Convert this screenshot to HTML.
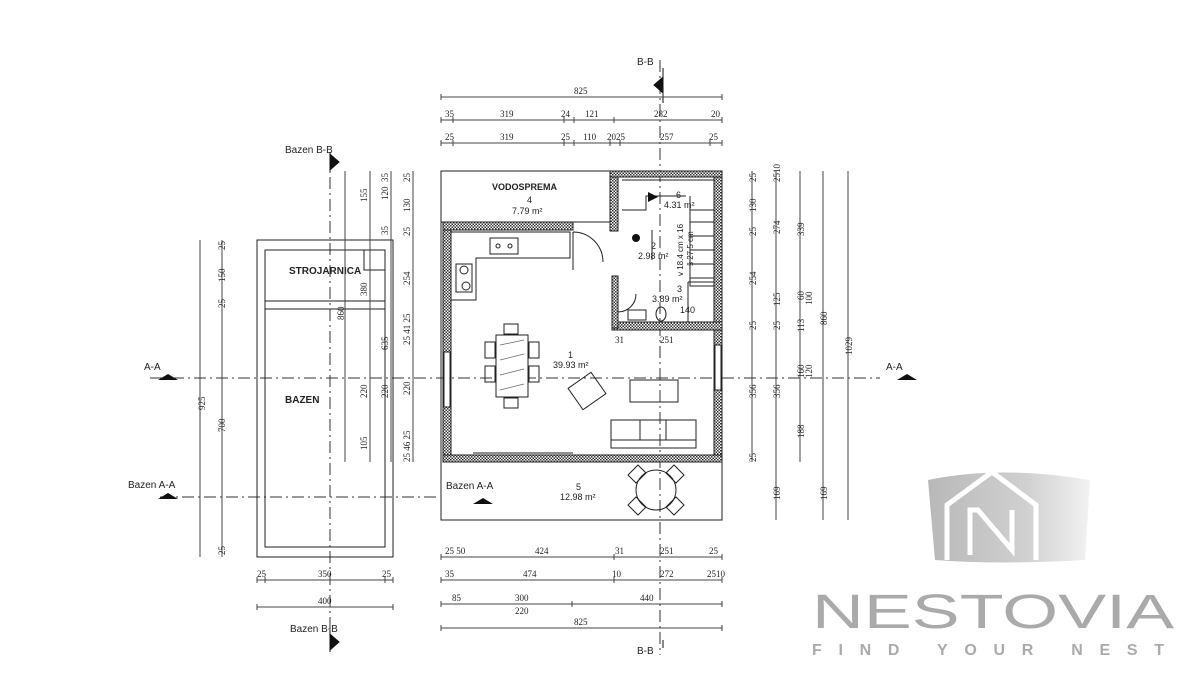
<!DOCTYPE html>
<html><head><meta charset="utf-8"><style>
html,body{margin:0;padding:0;background:#fff;width:1200px;height:700px;overflow:hidden}
svg{display:block}
text{font-family:"Liberation Sans",sans-serif;fill:#222}
.d{font-size:9px;font-family:"Liberation Serif",serif}
.l{stroke:#444;stroke-width:1;fill:none}
.ax{stroke:#333;stroke-width:1;stroke-dasharray:12 4 2 4;fill:none}
.w{fill:url(#h);stroke:#222;stroke-width:1}
.f{fill:none;stroke:#222;stroke-width:1}
</style></head><body>
<svg width="1200" height="700" viewBox="0 0 1200 700" xmlns="http://www.w3.org/2000/svg">
<defs>
<pattern id="h" width="3" height="3" patternUnits="userSpaceOnUse"><rect width="3" height="3" fill="#fff"/><rect width="1.5" height="1.5" fill="#333"/><rect x="1.5" y="1.5" width="1.5" height="1.5" fill="#333"/></pattern>
<linearGradient id="g" x1="0" x2="1"><stop offset="0" stop-color="#b8b8b8"/><stop offset=".6" stop-color="#d0d0d0"/><stop offset="1" stop-color="#f2f2f2"/></linearGradient>
</defs>

<path class="ax" d="M660 60V655M330 155V640M150 378H880M160 497H440"/>
<path d="M663 68v35M662 78l-8 7 8 7z" fill="#111" stroke="#111"/><text x="637" y="65" font-size="10">B-B</text>
<path d="M663 648v-8" stroke="#111"/><text x="637" y="654" font-size="10">B-B</text>
<path d="M330 152v20M331 155l8 7-8 7z" fill="#111" stroke="#111"/><text x="285" y="153" font-size="10">Bazen B-B</text>
<path d="M330 630v22M331 635l8 7-8 7z" fill="#111" stroke="#111"/><text x="290" y="632" font-size="10">Bazen B-B</text>
<path d="M158 380h20l-10-6z" fill="#111"/><text x="144" y="370" font-size="10">A-A</text>
<path d="M897 380h20l-10-6z" fill="#111"/><text x="886" y="370" font-size="10">A-A</text>
<path d="M158 499h20l-10-6z" fill="#111"/><text x="128" y="488" font-size="10">Bazen A-A</text>
<path d="M473 504h20l-10-6z" fill="#111"/><text x="446" y="489" font-size="10">Bazen A-A</text>

<rect class="f" x="257" y="240" width="136" height="317" stroke-width="1.3"/>
<rect class="f" x="265" y="250" width="120" height="297"/>
<path class="f" d="M265 301H385M265 309H385M364 250V270H385"/>
<text x="289" y="274" font-size="10" font-weight="bold">STROJARNICA</text>
<text x="285" y="403" font-size="10" font-weight="bold">BAZEN</text>

<rect class="f" x="441" y="171" width="281" height="349"/>
<path class="f" d="M441 222H612"/>
<rect class="w" x="443" y="222" width="8" height="240"/>
<rect class="w" x="714" y="171" width="8" height="291"/>
<rect class="w" x="443" y="222" width="130" height="8"/>
<rect class="w" x="610" y="171" width="8" height="60"/>
<rect class="w" x="610" y="171" width="112" height="6"/>
<rect class="w" x="443" y="455" width="279" height="7"/>
<rect class="w" x="612" y="322" width="110" height="8"/>
<rect class="w" x="612" y="276" width="6" height="52"/>
<rect x="444" y="352" width="6" height="55" fill="#fff" stroke="#222"/>
<rect x="715" y="345" width="6" height="45" fill="#fff" stroke="#222"/>
<path class="f" d="M473 453H573M573 232a30 30 0 0 1 30 30M573 232V270M618 312a18 18 0 0 0 18-18"/>
<path class="f" d="M451 232H570V258H476V300H451"/>
<rect class="f" x="490" y="238" width="28" height="16"/><circle cx="498" cy="246" r="2" fill="none" stroke="#222"/><circle cx="510" cy="246" r="2" fill="none" stroke="#222"/>
<rect class="f" x="456" y="264" width="16" height="28"/><circle cx="464" cy="270" r="4" fill="none" stroke="#222"/><circle cx="466" cy="286" r="4" fill="none" stroke="#222"/>
<path class="f" d="M622 180H714M622 210H646V196H686M652 230V260M690 196V286H714M690 210H714M690 222H714M690 236H714M690 250H714M690 264H714M690 278H714"/>
<circle cx="636" cy="238" r="4" fill="#111"/>
<path d="M648 192l10 5-10 5z" fill="#111"/>
<rect class="f" x="628" y="310" width="18" height="10"/><ellipse class="f" cx="661" cy="314" rx="5" ry="7"/>
<path class="f" d="M688 282V322M688 282H714"/>
<rect x="496" y="335" width="32" height="62" fill="#fff" stroke="#222"/>
<path d="M500 345l24 -5M500 360l24-6M500 375l24-6M500 390l24-6" stroke="#666" stroke-width=".7"/>
<rect class="f" x="504" y="324" width="14" height="10"/><rect class="f" x="504" y="398" width="14" height="10"/>
<rect class="f" x="485" y="342" width="10" height="16"/><rect class="f" x="485" y="366" width="10" height="16"/>
<rect class="f" x="529" y="342" width="10" height="16"/><rect class="f" x="529" y="366" width="10" height="16"/>
<rect class="f" x="573" y="378" width="28" height="26" transform="rotate(-35 587 391)"/>
<rect class="f" x="630" y="380" width="48" height="22"/>
<rect class="f" x="611" y="420" width="85" height="28"/><path class="f" d="M611 440H696M640 420V440M666 420V440"/>
<circle class="f" cx="656" cy="490" r="20"/>
<path class="f" d="M628 475l10-10 8 8-10 10zM666 473l8-8 10 10-8 8zM628 505l10 10 8-8-10-10zM666 507l8 8 10-10-8-8z"/>

<text x="492" y="190" font-size="9" font-weight="bold">VODOSPREMA</text>
<text x="527" y="203" font-size="9">4</text><text x="512" y="214" font-size="9">7.79 m²</text>
<text x="676" y="198" font-size="9">6</text><text x="664" y="208" font-size="9">4.31 m²</text>
<text x="651" y="249" font-size="9">2</text><text x="638" y="259" font-size="9">2.98 m²</text>
<text x="677" y="292" font-size="9">3</text><text x="652" y="302" font-size="9">3.89 m²</text><text x="680" y="313" font-size="9">140</text>
<text x="568" y="358" font-size="9">1</text><text x="553" y="368" font-size="9">39.93 m²</text>
<text x="576" y="490" font-size="9">5</text><text x="560" y="500" font-size="9">12.98 m²</text>
<text x="615" y="343" class="d">31</text><text x="660" y="343" class="d">251</text>
<text transform="translate(683 276) rotate(-90)" font-size="8">v 18.4 cm x 16</text>
<text transform="translate(693 266) rotate(-90)" font-size="8">š 27.5 cm</text>

<path class="l" d="M441 97H722M441 120H722M441 143H722M441 94v6M722 94v6M441 117v6M453 117v6M564 117v6M574 117v6M614 117v6M722 117v6M441 140v6M453 140v6M564 140v6M574 140v6M610 140v6M620 140v6M710 140v6M722 140v6"/>
<g><text x="574" y="94" class="d">825</text>
<text x="445" y="117" class="d">35</text><text x="500" y="117" class="d">319</text><text x="561" y="117" class="d">24</text><text x="585" y="117" class="d">121</text><text x="654" y="117" class="d">282</text><text x="711" y="117" class="d">20</text>
<text x="445" y="140" class="d">25</text><text x="500" y="140" class="d">319</text><text x="561" y="140" class="d">25</text><text x="583" y="140" class="d">110</text><text x="607" y="140" class="d">2025</text><text x="660" y="140" class="d">257</text><text x="709" y="140" class="d">25</text></g>

<path class="l" d="M441 557H722M441 580H722M441 604H722M441 628H722M441 554v6M722 554v6M441 577v6M722 577v6M441 601v6M722 601v6M441 625v6M722 625v6M572 601v6M614 554v6M614 577v6"/>
<path class="l" d="M257 580H393M257 607H393M257 577v6M393 577v6M257 604v6M393 604v6M265 577v6M385 577v6"/>
<g>
<text x="445" y="554" class="d">25 50</text><text x="535" y="554" class="d">424</text><text x="615" y="554" class="d">31</text><text x="660" y="554" class="d">251</text><text x="709" y="554" class="d">25</text>
<text x="445" y="577" class="d">35</text><text x="523" y="577" class="d">474</text><text x="612" y="577" class="d">10</text><text x="660" y="577" class="d">272</text><text x="707" y="577" class="d">2510</text>
<text x="452" y="601" class="d">85</text><text x="515" y="601" class="d">300</text><text x="640" y="601" class="d">440</text><text x="515" y="614" class="d">220</text>
<text x="574" y="625" class="d">825</text>
<text x="257" y="577" class="d">25</text><text x="318" y="577" class="d">350</text><text x="382" y="577" class="d">25</text>
<text x="318" y="604" class="d">400</text></g>

<path class="l" d="M200 240V557M222 240V557M345 171V462M370 171V462M391 171V462M413 171V462"/>
<g>
<text transform="translate(205 410) rotate(-90)" class="d">925</text>
<text transform="translate(225 282) rotate(-90)" class="d">150</text>
<text transform="translate(225 432) rotate(-90)" class="d">700</text>
<text transform="translate(225 250) rotate(-90)" class="d">25</text><text transform="translate(225 308) rotate(-90)" class="d">25</text><text transform="translate(225 555) rotate(-90)" class="d">25</text>
<text transform="translate(344 320) rotate(-90)" class="d">860</text>
<text transform="translate(367 202) rotate(-90)" class="d">155</text><text transform="translate(367 296) rotate(-90)" class="d">380</text><text transform="translate(367 398) rotate(-90)" class="d">220</text><text transform="translate(367 450) rotate(-90)" class="d">105</text>
<text transform="translate(388 200) rotate(-90)" class="d">120</text><text transform="translate(388 350) rotate(-90)" class="d">635</text><text transform="translate(388 398) rotate(-90)" class="d">220</text>
<text transform="translate(388 182) rotate(-90)" class="d">35</text><text transform="translate(388 235) rotate(-90)" class="d">35</text>
<text transform="translate(410 212) rotate(-90)" class="d">130</text><text transform="translate(410 285) rotate(-90)" class="d">254</text><text transform="translate(410 395) rotate(-90)" class="d">220</text>
<text transform="translate(410 182) rotate(-90)" class="d">25</text><text transform="translate(410 236) rotate(-90)" class="d">25</text><text transform="translate(410 345) rotate(-90)" class="d">25 41 25</text><text transform="translate(410 462) rotate(-90)" class="d">25 46 25</text>
</g>

<path class="l" d="M752 171V462M776 171V520M800 171V462M823 171V520M848 171V520"/>
<g>
<text transform="translate(756 212) rotate(-90)" class="d">130</text><text transform="translate(756 285) rotate(-90)" class="d">254</text><text transform="translate(756 398) rotate(-90)" class="d">356</text>
<text transform="translate(756 182) rotate(-90)" class="d">25</text><text transform="translate(756 236) rotate(-90)" class="d">25</text><text transform="translate(756 330) rotate(-90)" class="d">25</text><text transform="translate(756 462) rotate(-90)" class="d">25</text>
<text transform="translate(780 234) rotate(-90)" class="d">274</text><text transform="translate(780 306) rotate(-90)" class="d">125</text><text transform="translate(780 398) rotate(-90)" class="d">356</text><text transform="translate(780 500) rotate(-90)" class="d">169</text><text transform="translate(780 182) rotate(-90)" class="d">2510</text><text transform="translate(780 330) rotate(-90)" class="d">25</text>
<text transform="translate(804 236) rotate(-90)" class="d">339</text><text transform="translate(804 300) rotate(-90)" class="d">60</text><text transform="translate(812 305) rotate(-90)" class="d">100</text><text transform="translate(804 332) rotate(-90)" class="d">113</text><text transform="translate(804 378) rotate(-90)" class="d">160</text><text transform="translate(812 378) rotate(-90)" class="d">120</text><text transform="translate(804 438) rotate(-90)" class="d">188</text>
<text transform="translate(827 325) rotate(-90)" class="d">860</text><text transform="translate(827 500) rotate(-90)" class="d">169</text>
<text transform="translate(852 355) rotate(-90)" class="d">1029</text>
</g>

<path d="M928 480 Q1000 465 1090 480 L1085 560 Q1000 565 935 560 Z" fill="url(#g)"/>
<path d="M947 560V505L992 472 1036 505V560" fill="none" stroke="#fff" stroke-width="5"/>
<path d="M970 555V510H978L1012 550V510" fill="none" stroke="#fff" stroke-width="5"/>
<text x="812" y="628" font-size="48" style="fill:#aaa;font-family:'Liberation Sans',sans-serif" textLength="362" lengthAdjust="spacingAndGlyphs">NESTOVIA</text>
<text x="812" y="655" font-size="16" style="fill:#aaa;font-family:'Liberation Sans',sans-serif" font-weight="bold" textLength="352" lengthAdjust="spacing">FIND YOUR NEST</text>
</svg>
</body></html>
